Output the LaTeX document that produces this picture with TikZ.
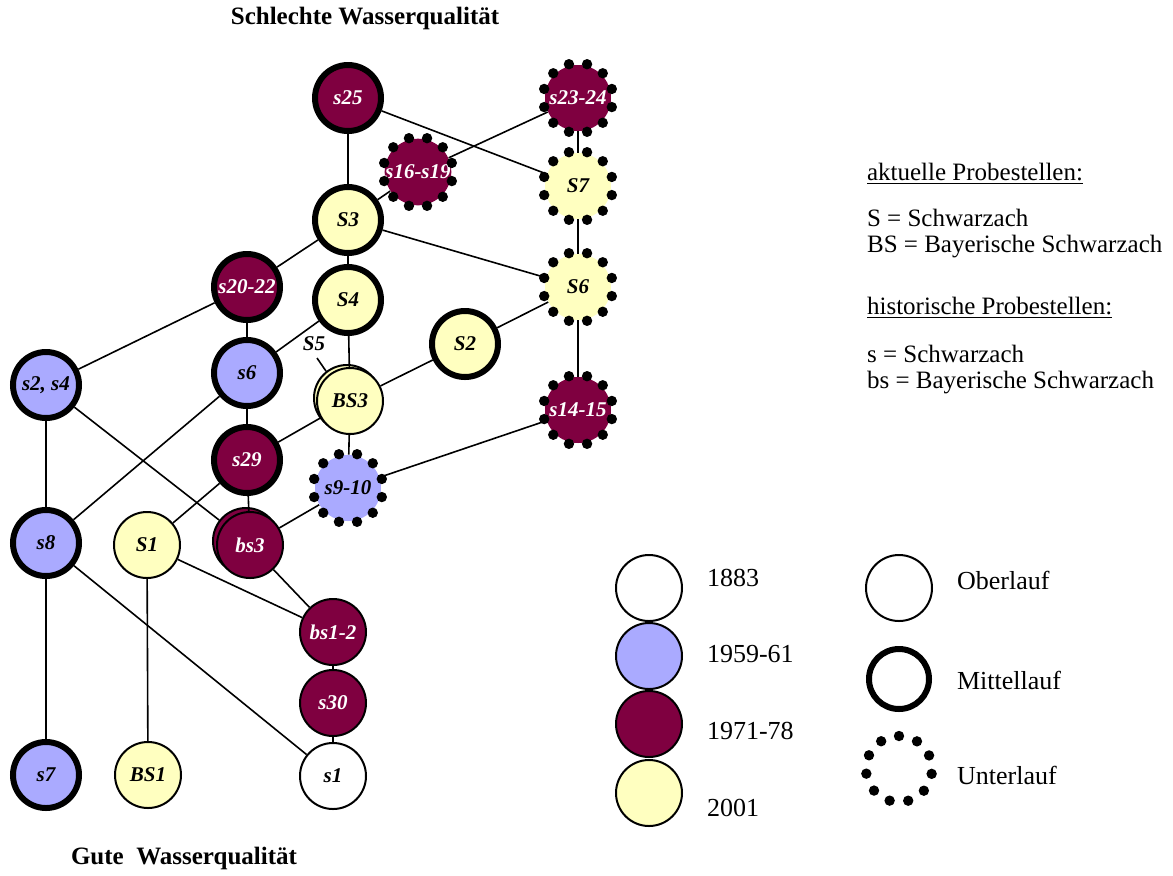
\documentclass[tikz,border=0pt]{standalone}
\usepackage{fontspec}
\setmainfont{Liberation Serif}
\definecolor{purpleC}{HTML}{7F0040}
\definecolor{blueC}{HTML}{AAAAFF}
\definecolor{yellowC}{HTML}{FFFFC0}
\tikzset{
  site/.style={circle, minimum size=33pt, inner sep=0pt,
    font=\fontsize{10.5}{12}\selectfont\bfseries\itshape},
  mid/.style={site, draw, line width=3pt},
  upper/.style={site, draw, line width=1pt},
  lower/.style={site},
  c83/.style={fill=white},
  c59/.style={fill=blueC},
  c71/.style={fill=purpleC, text=white},
  c01/.style={fill=yellowC},
  link/.style={line width=0.8pt},
  legtext/.style={anchor=west, font=\fontsize{13}{15}\selectfont},
  info/.style={anchor=west, font=\fontsize{12.5}{15}\selectfont},
  heading/.style={font=\fontsize{12.5}{14}\selectfont\bfseries}
}
% ring of dots marking a lower-course site
\newcommand{\dotring}[2][15]{%
  \foreach \a in {0,30,...,330}
    \fill ([shift={(\a+#1:17.5pt)}]#2.center) circle (2.6pt);}
\begin{document}
\begin{tikzpicture}[x=0.5pt, y=-0.5pt]
\useasboundingbox (0,0) rectangle (1173,875);

% headings
\node[heading] (bad) at (365,18) {Schlechte Wasserqualität};
\node[heading] (good) at (184,858) {Gute\ \ Wasserqualität};

% sampling sites
\node[mid, c71] (s25) at (348,98) {s25};
\node[lower, c71] (s2324) at (578,98) {s23-24};
\node[lower, c71] (s1619) at (418,172) {s16-s19};
\node[lower, c01] (S7) at (578,186) {S7};
\node[mid, c01] (S3) at (348,220) {S3};
\node[mid, c71] (s2022) at (247,287) {s20-22};
\node[lower, c01] (S6) at (578,287) {S6};
\node[mid, c01] (S4) at (348,300) {S4};
\node[mid, c01] (S2) at (465,344) {S2};
\node[mid, c59] (s24) at (46,385) {s2, s4};
\node[mid, c59] (s6) at (247,373) {s6};
\node[upper, c01] (S5) at (347,398) {};
\node[upper, c01] (BS3) at (350,401) {BS3};
\node[lower, c71] (s1415) at (578,410) {s14-15};
\node[mid, c71] (s29) at (247,460) {s29};
\node[lower, c59] (s910) at (348,488) {s9-10};
\node[mid, c59] (s8) at (46,543) {s8};
\node[upper, c01] (S1) at (147,545) {S1};
\node[upper, c71] (bs3b) at (246,541) {};
\node[upper, c71] (bs3) at (250,545) {bs3};
\node[upper, c71] (bs12) at (333,632) {bs1-2};
\node[upper, c71] (s30) at (333,703) {s30};
\node[upper, c83] (s1) at (333,776) {s1};
\node[mid, c59] (s7) at (46,775) {s7};
\node[upper, c01] (BS1) at (148,775) {BS1};

\dotring{s2324}
\dotring{s1619}
\dotring{S7}
\dotring{S6}
\dotring{s1415}
\dotring{s910}

% label of the hidden site S5
\node[site, minimum size=0pt] (s5lab) at (314,344) {S5};
\coordinate (s5tip) at (317,358);
\draw[link] (s5tip) -- (S5.128);

% connections
\draw[link] (s25) -- (S3);
\draw[link] (s25) -- (S7);
\draw[link] (S3) -- (s1619);
\draw[link] (s1619) -- (s2324);
\draw[link] (s2324) -- (S7);
\draw[link] (S7) -- (S6);
\draw[link] (S3) -- (S6);
\draw[link] (S3) -- (s2022);
\draw[link] (S3) -- (S4);
\draw[link] (s2022) -- (s24);
\draw[link] (s2022) -- (s6);
\draw[link] (S4) -- (s6);
\draw[link] (S4) -- (BS3);
\draw[link] (S6) -- (S2);
\draw[link] (S2) -- (BS3);
\draw[link] (S6) -- (s1415);
\draw[link] (s1415) -- (s910);
\draw[link] (BS3) -- (s29);
\draw[link] (BS3) -- (s910);
\draw[link] (s6) -- (s29);
\draw[link] (s6) -- (s8);
\draw[link] (s29) -- (bs3);
\draw[link] (s29) -- (S1);
\draw[link] (s24) -- (s8);
\draw[link] (s24) -- (bs3b);
\draw[link] (s910) -- (bs3);
\draw[link] (bs3) -- (bs12);
\draw[link] (S1) -- (bs12);
\draw[link] (S1) -- (BS1);
\draw[link] (s8) -- (s1);
\draw[link] (s8) -- (s7);
\draw[link] (bs12) -- (s30);
\draw[link] (s30) -- (s1);

% legend: period
\node[upper, c83] (l83) at (649,588) {};
\node[upper, c59] (l59) at (649,656) {};
\node[upper, c71] (l71) at (649,724) {};
\node[upper, c01] (l01) at (649,793) {};
\node[legtext] (t83) at (700,578) {1883};
\node[legtext] (t59) at (700,654) {1959-61};
\node[legtext] (t71) at (700,731) {1971-78};
\node[legtext] (t01) at (700,808) {2001};

% legend: river section
\node[upper] (lob) at (899,588) {};
\node[mid, minimum size=30pt] (lmi) at (899,679) {};
\node[lower] (lun) at (899,769) {};
\foreach \a in {0,32.7,...,330}
  \fill ([shift={(\a+90:16.5pt)}]lun.center) circle (2.6pt);
\node[legtext] (tob) at (950,580) {Oberlauf};
\node[legtext] (tmi) at (950,680) {Mittellauf};
\node[legtext] (tun) at (950,775) {Unterlauf};

% key to the site names
\node[info] (k1) at (860,174) {\underline{aktuelle Probestellen:}};
\node[info] (k2) at (860,218) {S = Schwarzach};
\node[info] (k3) at (860,247) {BS = Bayerische Schwarzach};
\node[info] (k4) at (860,308) {\underline{historische Probestellen:}};
\node[info] (k5) at (860,354) {s = Schwarzach};
\node[info] (k6) at (860,383) {bs = Bayerische Schwarzach};
\end{tikzpicture}
\end{document}
